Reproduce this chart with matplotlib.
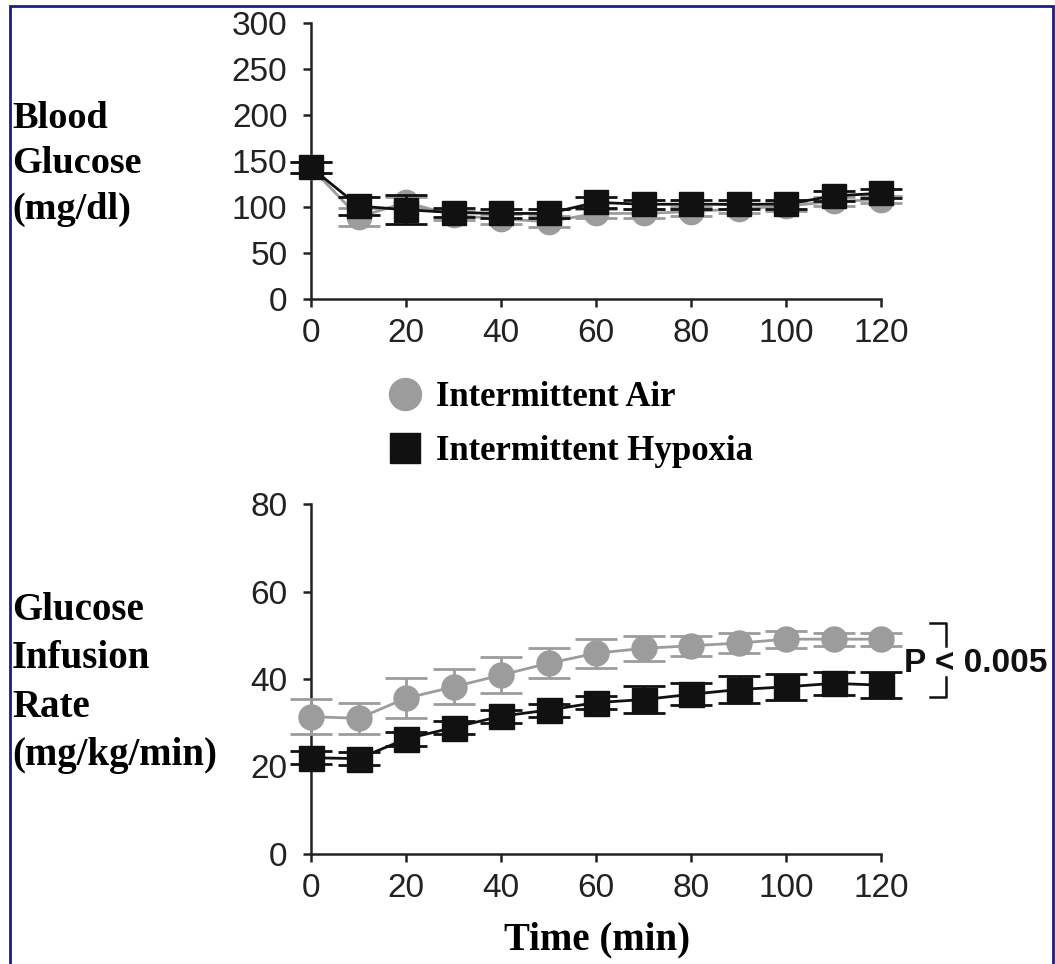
import matplotlib
matplotlib.use("Agg")
import matplotlib.pyplot as plt
from matplotlib.lines import Line2D
from matplotlib.patches import Rectangle

W, H = 1055, 964

# time points (min)
time_min = [0, 10, 20, 30, 40, 50, 60, 70, 80, 90, 100, 110, 120]

# blood glucose (mg/dl)
bg_air = [143, 89, 105, 91, 87, 84, 93, 93, 95, 98, 101, 106, 108]
bg_air_err = [6, 10, 6, 5, 5, 6, 5, 5, 5, 5, 5, 5, 4]
bg_hyp = [143, 101, 97, 94, 93, 93, 105, 103, 103, 103, 103, 112, 115]
bg_hyp_err = [6, 10, 16, 5, 5, 5, 6, 5, 5, 5, 5, 5, 5]

# glucose infusion rate (mg/kg/min)
gir_air = [31.4, 31.0, 35.6, 38.2, 40.9, 43.6, 45.9, 47.0, 47.6, 48.2, 49.1, 49.1, 49.1]
gir_air_err = [4.0, 3.6, 4.6, 4.0, 4.1, 3.4, 3.3, 2.9, 2.3, 2.3, 1.9, 1.5, 1.5]
gir_hyp = [22.0, 21.8, 26.3, 28.9, 31.5, 32.9, 34.6, 35.3, 36.5, 37.6, 38.2, 39.0, 38.6]
gir_hyp_err = [1.5, 1.5, 1.5, 1.5, 1.5, 1.5, 1.5, 3.0, 2.5, 3.0, 3.0, 2.7, 3.0]

AIR = "#9c9c9c"
HYP = "#111111"
SERIF = "Liberation Serif"
SANS = "Liberation Sans"

fig = plt.figure(figsize=(W / 100, H / 100), dpi=100)


def px_axes(left, top, right, bottom):
    return fig.add_axes([left / W, 1 - bottom / H, (right - left) / W, (bottom - top) / H])


def style(ax, ylim, yticks):
    ax.set_xlim(0, 120)
    ax.set_ylim(*ylim)
    ax.set_xticks(range(0, 121, 20))
    ax.set_yticks(yticks)
    for s in ("top", "right"):
        ax.spines[s].set_visible(False)
    for s in ("left", "bottom"):
        ax.spines[s].set_linewidth(1.8)
        ax.spines[s].set_color("#222222")
    ax.tick_params(direction="out", length=6, width=1.8, color="#222222", labelsize=24)
    ax.tick_params(axis="x", pad=8)
    ax.tick_params(axis="y", pad=11)
    for lab in ax.get_xticklabels() + ax.get_yticklabels():
        lab.set_fontfamily(SANS)
        lab.set_color("#222222")
    ax.set_facecolor("none")


def draw(ax, air, air_err, hyp, hyp_err, ms):
    ax.errorbar(time_min, air, yerr=air_err, color=AIR, marker="o", ms=ms,
                lw=2, elinewidth=2, capsize=15, capthick=2, clip_on=False, zorder=3)
    ax.errorbar(time_min, hyp, yerr=hyp_err, color=HYP, marker="s", ms=ms,
                lw=2, elinewidth=2, capsize=15, capthick=2, clip_on=False, zorder=4)


ax1 = px_axes(311, 23, 881, 299)
style(ax1, (0, 300), range(0, 301, 50))
draw(ax1, bg_air, bg_air_err, bg_hyp, bg_hyp_err, 17.5)

ax2 = px_axes(311, 504, 881, 854)
style(ax2, (0, 80), range(0, 81, 20))
draw(ax2, gir_air, gir_air_err, gir_hyp, gir_hyp_err, 18)

# y labels
fig.text(12 / W, 1 - 164 / H, "Blood\nGlucose\n(mg/dl)", family=SERIF, weight="bold",
         fontsize=27.5, ha="left", va="center", linespacing=1.4)
fig.text(12 / W, 1 - 683 / H, "Glucose\nInfusion\nRate\n(mg/kg/min)", family=SERIF,
         weight="bold", fontsize=28, ha="left", va="center", linespacing=1.4)
fig.text(597 / W, 1 - 940 / H, "Time (min)", family=SERIF, weight="bold",
         fontsize=28, ha="center", va="center")

# legend
handles = [Line2D([], [], ls="none", marker="o", ms=23, color=AIR),
           Line2D([], [], ls="none", marker="s", ms=22, color=HYP)]
fig.legend(handles, ["Intermittent Air", "Intermittent Hypoxia"], loc="upper left",
           bbox_to_anchor=(356 / W, 1 - 350 / H), frameon=False, handlelength=1.0,
           handletextpad=0.4, labelspacing=0.6,
           prop={"family": SERIF, "weight": "bold", "size": 25})

# significance bracket
ax2.plot([130.3, 133.7, 133.7], [52.8, 52.8, 47.5], color=HYP, lw=1.8, clip_on=False)
ax2.plot([130.3, 133.7, 133.7], [35.9, 35.9, 40.5], color=HYP, lw=1.8, clip_on=False)
ax2.text(124.8, 43.5, "P < 0.005", family=SANS, weight="bold", fontsize=24,
         ha="left", va="center", color="#111111", clip_on=False)

# outer frame
fig.patches.append(Rectangle((10 / W, -0.05), 1043 / W, 1.05 - 6 / H,
                             transform=fig.transFigure, fill=False,
                             edgecolor="#1c1c8c", lw=2))

fig.savefig("out.png", dpi=100)
